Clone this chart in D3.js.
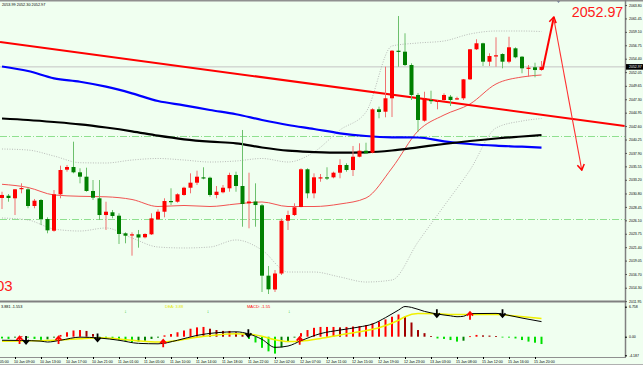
<!DOCTYPE html>
<html>
<head>
<meta charset="utf-8">
<script src="https://cdn.jsdelivr.net/npm/d3@7"></script>
<style>
  body { margin: 0; background: #f0fff0; }
  svg { display: block; font-family: "Liberation Sans", Arial, sans-serif; }
</style>
</head>
<body>
<svg width="643" height="367"></svg>
<script>
// XAUUSD H1, 84 bars (up = red, down = green)
var opens = [2030.01, 2030.41, 2029.96, 2031.67, 2031.53, 2028.61, 2029.66, 2026.33, 2024.28, 2030.66,
    2034.97, 2035.44, 2034.51, 2033.74, 2031.24, 2029.96, 2027.03, 2027.51, 2026.91, 2023.83,
    2023.53, 2023.65, 2023.13, 2023.65, 2026.28, 2027.61, 2029.48, 2029.36, 2030.54, 2031.81,
    2032.69, 2033.63, 2033.56, 2030.54, 2031.01, 2031.71, 2034.04, 2032.11, 2029.08, 2029.40,
    2028.73, 2016.41, 2013.99, 2016.79, 2026.03, 2027.03, 2028.43, 2035.04, 2030.83, 2033.51,
    2033.63, 2033.63, 2034.44, 2035.79, 2034.91, 2037.24, 2038.29, 2037.94, 2045.54, 2045.12,
    2047.47, 2055.80, 2055.63, 2053.30, 2048.05, 2043.55, 2047.17, 2046.94, 2047.17, 2047.75,
    2047.40, 2047.47, 2050.79, 2056.05, 2057.10, 2053.88, 2054.93, 2055.22, 2053.88, 2056.22,
    2054.75, 2052.77, 2052.90, 2052.42];
var highs = [2031.11, 2030.71, 2031.59, 2032.58, 2031.81, 2029.84, 2029.84, 2026.63, 2031.41, 2035.67,
    2035.79, 2039.87, 2035.21, 2035.32, 2033.16, 2033.16, 2029.36, 2027.91, 2027.33, 2024.00,
    2024.00, 2024.41, 2023.83, 2027.33, 2028.03, 2029.96, 2031.71, 2030.83, 2031.99, 2034.33,
    2034.79, 2035.39, 2033.74, 2032.11, 2032.29, 2034.44, 2034.62, 2041.92, 2034.44, 2032.58,
    2028.96, 2018.10, 2017.40, 2026.42, 2027.79, 2029.08, 2035.21, 2035.21, 2034.33, 2034.21,
    2035.39, 2034.62, 2036.79, 2036.09, 2039.12, 2039.59, 2039.69, 2045.72, 2046.00, 2053.00,
    2055.92, 2061.88, 2058.85, 2053.60, 2048.40, 2048.62, 2048.80, 2047.17, 2048.34, 2048.05,
    2047.75, 2050.85, 2056.10, 2057.80, 2057.20, 2055.35, 2058.15, 2055.35, 2058.25, 2056.40,
    2054.87, 2053.30, 2053.70, 2053.99];
var lows = [2028.08, 2029.36, 2027.03, 2030.83, 2028.21, 2028.21, 2025.28, 2023.83, 2024.11, 2029.96,
    2034.62, 2034.33, 2032.58, 2031.11, 2029.66, 2026.16, 2024.41, 2026.46, 2021.96, 2022.08,
    2019.91, 2021.31, 2022.95, 2023.53, 2026.16, 2026.63, 2028.78, 2029.19, 2030.41, 2030.83,
    2032.29, 2033.28, 2030.24, 2029.96, 2030.83, 2031.11, 2031.11, 2024.98, 2024.70, 2024.98,
    2013.55, 2013.20, 2013.55, 2016.53, 2024.41, 2026.86, 2028.38, 2029.96, 2029.96, 2032.86,
    2033.16, 2033.46, 2033.46, 2034.62, 2033.86, 2037.14, 2037.71, 2037.84, 2043.97, 2044.14,
    2044.19, 2053.00, 2053.12, 2047.17, 2041.62, 2043.37, 2046.47, 2045.54, 2046.99, 2046.12,
    2047.17, 2047.17, 2050.67, 2055.92, 2053.12, 2053.12, 2053.00, 2052.72, 2053.60, 2054.47,
    2051.85, 2051.25, 2051.14, 2052.30];
var closes = [2030.54, 2030.01, 2031.53, 2031.76, 2028.61, 2029.54, 2026.33, 2024.35, 2030.66, 2034.91,
    2035.44, 2034.51, 2033.74, 2031.24, 2030.06, 2027.03, 2027.61, 2026.86, 2023.71, 2023.41,
    2023.65, 2023.09, 2023.71, 2026.45, 2027.61, 2029.48, 2029.31, 2030.66, 2031.81, 2032.69,
    2033.74, 2033.46, 2030.54, 2031.11, 2031.81, 2034.04, 2032.11, 2028.96, 2029.40, 2028.78,
    2016.41, 2014.02, 2016.79, 2026.03, 2027.03, 2028.38, 2035.04, 2030.83, 2033.63, 2033.63,
    2033.51, 2034.44, 2035.79, 2034.91, 2037.24, 2038.29, 2037.84, 2045.54, 2045.07, 2047.47,
    2055.80, 2055.70, 2053.30, 2048.05, 2043.67, 2047.47, 2046.99, 2047.05, 2048.05, 2047.17,
    2047.47, 2050.79, 2056.05, 2057.10, 2053.88, 2054.87, 2055.00, 2053.88, 2056.40, 2054.65,
    2052.72, 2052.83, 2052.42, 2052.97];

// indicator lines read every 4 bars: [bar, price]
var maBlue = [[0, 2053.04], [4, 2052.25], [8, 2050.97], [12, 2050.37], [16, 2049.50], [20, 2048.34], [24, 2046.99], [28, 2046.24],
    [32, 2045.42], [36, 2044.67], [40, 2043.67], [44, 2042.79], [48, 2042.09], [52, 2041.34], [56, 2040.87], [60, 2040.64],
    [64, 2040.60], [68, 2039.94], [72, 2039.47], [76, 2039.17], [80, 2038.99], [83, 2038.82]];
var maBlack = [[0, 2043.93], [4, 2043.67], [8, 2043.32], [12, 2042.91], [16, 2042.35], [20, 2041.69], [24, 2040.92], [28, 2040.29],
    [32, 2039.87], [36, 2039.59], [40, 2038.85], [44, 2038.29], [48, 2038.06], [52, 2037.94], [56, 2038.01], [60, 2038.33],
    [64, 2038.89], [68, 2039.47], [72, 2039.99], [76, 2040.43], [80, 2040.78], [83, 2041.04]];
var bbMid = [[0, 2032.41], [4, 2031.85], [8, 2030.54], [12, 2030.31], [16, 2030.22], [20, 2029.75], [24, 2028.52], [28, 2028.70],
    [32, 2028.52], [36, 2028.96], [40, 2029.31], [44, 2028.52], [48, 2028.52], [52, 2028.96], [56, 2030.01], [60, 2035.26],
    [64, 2041.74], [68, 2044.54], [72, 2046.47], [76, 2049.97], [80, 2051.20], [83, 2051.55]];
var bbUpper = [[0, 2038.59], [4, 2038.41], [8, 2037.36], [12, 2036.19], [16, 2036.14], [20, 2036.66], [24, 2036.93], [28, 2036.66],
    [32, 2036.31], [36, 2036.49], [40, 2036.93], [44, 2036.31], [48, 2038.06], [52, 2041.92], [56, 2045.07], [60, 2056.63],
    [64, 2057.15], [68, 2057.50], [72, 2058.73], [76, 2059.25], [80, 2059.25], [83, 2059.16]];
var bbLower = [[0, 2026.51], [4, 2026.16], [8, 2024.58], [12, 2024.23], [16, 2024.76], [20, 2023.01], [24, 2021.43], [28, 2021.26],
    [32, 2021.43], [36, 2022.66], [40, 2020.90], [44, 2017.05], [48, 2017.05], [52, 2016.18], [56, 2015.30], [60, 2015.65],
    [64, 2022.31], [68, 2028.61], [72, 2034.91], [76, 2042.27], [80, 2043.49], [83, 2043.93]];
var trendLine = [[-0.3, 2057.33], [95.8, 2042.62]];
var levels = [2040.87, 2026.28];
var forecast = [[83.2, 2052.60], [84.9, 2061.70], [89.2, 2034.90]];

// MACD panel
var macdHist = [-0.4, -0.5, -0.2, 0.1, -0.2, -0.5, -0.7, -0.6, -0.2, 0.4,
    1.0, 1.4, 1.5, 1.3, 0.6, -0.2, -0.4, -0.6, -0.8, -1.0,
    -1.2, -1.1, -0.9, -0.5, -0.2, 0.3, 0.6, 1.0, 1.4, 1.8,
    2.1, 2.2, 1.8, 1.5, 1.3, 1.3, 1.0, 0.5, -0.5, -1.3,
    -2.5, -3.3, -3.8, -2.4, -1.2, -0.2, 0.8, 1.5, 2.0, 2.2,
    2.2, 2.2, 2.1, 2.2, 2.3, 2.4, 2.6, 3.0, 3.4, 3.9,
    4.5, 5.0, 4.5, 3.2, 1.5, 0.8, 0.15, -0.4, -0.5, -0.75,
    -1.1, -0.9, 0.1, 0.4, 0.3, 0.25, 0.15, -0.1, -0.2, -0.4,
    -0.75, -1.1, -1.35, -1.65];
var dif = [[0, -0.8], [3, -0.85], [6, -1.0], [7, -1.2], [9, -0.8], [12, -0.1], [15, -0.3], [18, -0.8], [21, -1.5], [24, -1.6],
    [27, -0.8], [30, 0.3], [33, 0.9], [36, 1.1], [38, 0.6], [40, -0.6], [42, -2.4], [44, -2.1], [46, -0.9], [49, 0.7],
    [52, 1.5], [55, 2.2], [57, 2.85], [59, 4.3], [61, 6.0], [62, 6.8], [63, 6.6], [65, 5.7], [67, 5.1], [69, 4.7],
    [70, 4.5], [71, 4.6], [72, 5.2], [76, 5.25], [78, 4.8], [80, 4.2], [83, 3.4]];
var dea = [[0, -1.0], [3, -0.95], [6, -0.9], [9, -0.75], [12, -0.45], [15, -0.25], [18, -0.5], [21, -0.95], [24, -1.2], [27, -0.85],
    [30, -0.1], [33, 0.4], [36, 0.65], [38, 0.55], [40, 0.1], [42, -0.7], [44, -1.1], [46, -1.0], [49, -0.4], [52, 0.4],
    [55, 1.1], [58, 2.0], [61, 3.7], [62, 4.5], [64, 5.2], [67, 5.15], [70, 5.0], [73, 5.0], [76, 5.0], [79, 4.65], [83, 4.1]];
var crossUp = [[2.7, -0.75], [8.7, -0.75], [24.8, -1.5], [45.8, -0.9], [72, 4.73]];
var crossDown = [[3.7, -0.75], [14.7, -0.2], [37.9, 0.77], [66.9, 5.27], [77, 5.27]];
var markerBars = [19, 31.7, 44.2];

// axes
var priceTicks = [2063.80, 2061.45, 2059.10, 2056.75, 2054.40, 2052.05, 2049.65, 2047.30, 2044.95, 2042.60, 2040.25, 2037.90,
    2035.55, 2033.20, 2030.80, 2028.45, 2026.10, 2023.75, 2021.40, 2019.05, 2016.70, 2014.30, 2011.95];
var macdTicks = [6.758, 0, -4.187];
var macdTickLabels = ["6.758", "0.00", "-4.187"];
var timeBars = [-2, 2, 6, 10, 14, 18, 22, 26, 30, 34, 38, 42, 46, 50, 54, 58, 62, 66, 70, 74, 78, 82];
var timeLabels = ["10 Jan 05:00", "10 Jan 09:00", "10 Jan 13:00", "10 Jan 17:00", "10 Jan 21:00", "11 Jan 01:00",
    "11 Jan 05:00", "11 Jan 10:00", "11 Jan 14:00", "11 Jan 18:00", "11 Jan 22:00", "12 Jan 02:00", "12 Jan 07:00",
    "12 Jan 11:00", "12 Jan 15:00", "12 Jan 19:00", "12 Jan 23:00", "13 Jan 03:00", "15 Jan 08:00", "15 Jan 12:00",
    "15 Jan 16:00", "15 Jan 20:00"];

var svg = d3.select("svg"),
    plotRight = 625,
    mainBottom = 300,
    macdTop = 302,
    macdBottom = 357;

var x = d3.scaleLinear().domain([0, 83]).range([2, 541.5]);
var y = d3.scaleLinear().domain([2012.15, 2064.68]).range([mainBottom, 0]);
var ym = d3.scaleLinear().domain([-4.187, 6.758]).range([355.3, 306.7]);

var defs = svg.append("defs");
defs.append("clipPath").attr("id", "clipMain").append("rect")
    .attr("width", plotRight).attr("height", mainBottom);
defs.append("clipPath").attr("id", "clipMacd").append("rect")
    .attr("y", macdTop).attr("width", plotRight).attr("height", macdBottom - macdTop);
defs.append("marker").attr("id", "head")
    .attr("viewBox", "-7 -5 8 10").attr("refX", 0).attr("refY", 0)
    .attr("markerWidth", 8).attr("markerHeight", 10)
    .attr("markerUnits", "userSpaceOnUse").attr("orient", "auto")
    .append("path").attr("d", "M-5.5,-3.5 L0,0 L-5.5,3.5")
    .attr("fill", "none").attr("stroke", "#ff0000").attr("stroke-width", 1.5);

var main = svg.append("g").attr("clip-path", "url(#clipMain)");

var priceLine = d3.line()
    .x(function(d) { return x(d[0]); })
    .y(function(d) { return y(d[1]); })
    .curve(d3.curveMonotoneX);

// dash-dot levels
main.selectAll(".level").data(levels).enter().append("line")
    .attr("x1", 0).attr("x2", plotRight)
    .attr("y1", function(d) { return Math.round(y(d)) + 0.5; })
    .attr("y2", function(d) { return Math.round(y(d)) + 0.5; })
    .attr("stroke", "#8fe08f").attr("stroke-dasharray", "7,2,1,2");

// current price line
main.append("line")
    .attr("x1", 0).attr("x2", plotRight)
    .attr("y1", y(closes[83])).attr("y2", y(closes[83]))
    .attr("stroke", "#c4c4c4").attr("stroke-width", 1);

// bollinger bands
[bbUpper, bbLower].forEach(function(band) {
    main.append("path").datum(band)
        .attr("d", priceLine)
        .attr("fill", "none").attr("stroke", "#a8a8a8")
        .attr("stroke-width", 0.8).attr("stroke-dasharray", "1,1.5");
});
main.append("path").datum(bbMid).attr("d", priceLine)
    .attr("fill", "none").attr("stroke", "#f04040").attr("stroke-width", 0.9);

main.append("path").datum(maBlue).attr("d", priceLine)
    .attr("fill", "none").attr("stroke", "#0000ff").attr("stroke-width", 2.2);
main.append("path").datum(maBlack).attr("d", priceLine)
    .attr("fill", "none").attr("stroke", "#000").attr("stroke-width", 2.2);
main.append("path").datum(trendLine).attr("d", d3.line()
        .x(function(d) { return x(d[0]); })
        .y(function(d) { return y(d[1]); }))
    .attr("fill", "none").attr("stroke", "#ff0000").attr("stroke-width", 2);

// candles
var bars = d3.range(closes.length);
function isUp(i) { return closes[i] >= opens[i]; }

main.selectAll(".wick").data(bars).enter().append("line")
    .attr("x1", function(i) { return x(i); })
    .attr("x2", function(i) { return x(i); })
    .attr("y1", function(i) { return y(highs[i]); })
    .attr("y2", function(i) { return y(lows[i]); })
    .attr("stroke", function(i) { return isUp(i) ? "#f07070" : "#6cc06c"; })
    .attr("stroke-width", 1);

main.selectAll(".body").data(bars).enter().append("rect")
    .attr("x", function(i) { return x(i) - 2; })
    .attr("width", 4)
    .attr("y", function(i) { return y(Math.max(opens[i], closes[i])); })
    .attr("height", function(i) { return Math.max(1.2, Math.abs(y(opens[i]) - y(closes[i]))); })
    .attr("fill", function(i) { return isUp(i) ? "#ff0000" : "#008000"; });

// forecast arrows
svg.append("line")
    .attr("x1", x(forecast[0][0])).attr("y1", y(forecast[0][1]))
    .attr("x2", x(forecast[1][0])).attr("y2", y(forecast[1][1]))
    .attr("stroke", "#ff0000").attr("stroke-width", 2).attr("marker-end", "url(#head)");
svg.append("line")
    .attr("x1", x(forecast[1][0])).attr("y1", y(forecast[1][1]) + 2)
    .attr("x2", x(forecast[2][0])).attr("y2", y(forecast[2][1]))
    .attr("stroke", "#ff3030").attr("stroke-width", 1.1).attr("marker-end", "url(#head)");

// labels in main panel
svg.append("text").attr("x", 2).attr("y", 6)
    .attr("font-size", 3.8).attr("fill", "#000")
    .text("2053.99 2052.30 2052.97");
svg.append("text").attr("x", 571.7).attr("y", 17.3)
    .attr("font-size", 15.5).attr("fill", "#ff1a1a")
    .attr("textLength", 51.6).attr("lengthAdjust", "spacingAndGlyphs")
    .text(d3.format(".2f")(closes[83]));
svg.append("text").attr("x", 12.7).attr("y", 290.7)
    .attr("font-size", 15).attr("fill", "#ff1a1a").attr("text-anchor", "end")
    .text("03");
svg.append("path").attr("d", "M556,0 L561,0 L558.5,3 Z").attr("fill", "#7080a0");

// MACD panel
var macdG = svg.append("g").attr("clip-path", "url(#clipMacd)");
macdG.selectAll(".hist").data(bars).enter().append("rect")
    .attr("x", function(i) { return x(i) - 1; })
    .attr("width", 2)
    .attr("y", function(i) { return Math.min(ym(0), ym(macdHist[i])); })
    .attr("height", function(i) { return Math.max(0.8, Math.abs(ym(macdHist[i]) - ym(0))); })
    .attr("fill", function(i) {
        var v = macdHist[i], p = i > 0 ? macdHist[i - 1] : v;
        if (v >= 0) return v >= p ? "#ff0000" : "#a00000";
        return v <= p ? "#00e000" : "#008000";
    });

var macdLine = d3.line()
    .x(function(d) { return x(d[0]); })
    .y(function(d) { return ym(d[1]); })
    .curve(d3.curveMonotoneX);
macdG.append("path").datum(dea).attr("d", macdLine)
    .attr("fill", "none").attr("stroke", "#f0f000").attr("stroke-width", 1.5);
macdG.append("path").datum(dif).attr("d", macdLine)
    .attr("fill", "none").attr("stroke", "#000").attr("stroke-width", 1);

macdG.selectAll(".up").data(crossUp).enter().append("path")
    .attr("transform", function(d) { return "translate(" + x(d[0]) + "," + ym(d[1]) + ")"; })
    .attr("d", "M0,4 L0,-3 M-3,0 L0,-3.5 L3,0")
    .attr("fill", "none").attr("stroke", "#ff0000").attr("stroke-width", 1.8);
macdG.selectAll(".down").data(crossDown).enter().append("path")
    .attr("transform", function(d) { return "translate(" + x(d[0]) + "," + ym(d[1]) + ")"; })
    .attr("d", "M0,-4 L0,3 M-3,0 L0,3.5 L3,0")
    .attr("fill", "none").attr("stroke", "#000").attr("stroke-width", 1.8);

svg.append("text").attr("x", 1).attr("y", 308).attr("font-size", 3.8).attr("fill", "#000")
    .text("3.881 -1.553");
svg.append("text").attr("x", 165).attr("y", 308).attr("font-size", 4).attr("fill", "#e6e600")
    .text("DEA:   3.88");
svg.append("text").attr("x", 247).attr("y", 308).attr("font-size", 4).attr("fill", "#ff0000")
    .text("MACD:   -1.55");
svg.selectAll(".mk").data(markerBars).enter().append("text")
    .attr("x", function(d) { return x(d); }).attr("y", 313)
    .attr("font-size", 5).attr("fill", "#20c020").attr("text-anchor", "middle")
    .text("\u2193");

// frame
svg.append("line").attr("x1", 0).attr("x2", 643).attr("y1", 0.8).attr("y2", 0.8)
    .attr("stroke", "#909090").attr("stroke-width", 1.6);
svg.append("line").attr("x1", 0).attr("x2", plotRight + 1).attr("y1", 301.5).attr("y2", 301.5)
    .attr("stroke", "#808080").attr("stroke-width", 2);
svg.append("line").attr("x1", 0).attr("x2", plotRight + 1).attr("y1", macdBottom + 0.5).attr("y2", macdBottom + 0.5)
    .attr("stroke", "#909090").attr("stroke-width", 1);
svg.append("line").attr("x1", plotRight + 0.5).attr("x2", plotRight + 0.5).attr("y1", 0).attr("y2", macdBottom)
    .attr("stroke", "#808080").attr("stroke-width", 1.5);

// price axis
var yAxis = svg.append("g").attr("transform", "translate(" + plotRight + ",0)")
    .call(d3.axisRight(y).tickValues(priceTicks).tickFormat(d3.format(".2f")).tickSize(2).tickPadding(2))
    .attr("font-size", 3.5).attr("font-family", null);
yAxis.select(".domain").remove();
yAxis.selectAll("line").attr("stroke", "#555");

// current price tag
svg.append("rect").attr("x", plotRight + 1).attr("y", y(closes[83]) - 2.8)
    .attr("width", 17).attr("height", 5.6).attr("fill", "#000");
svg.append("text").attr("x", plotRight + 4).attr("y", y(closes[83]) + 1.3)
    .attr("font-size", 3.5).attr("fill", "#fff")
    .text(d3.format(".2f")(closes[83]));

var mAxis = svg.append("g").attr("transform", "translate(" + plotRight + ",0)")
    .call(d3.axisRight(ym).tickValues(macdTicks)
        .tickFormat(function(d, i) { return macdTickLabels[i]; }).tickSize(2).tickPadding(2))
    .attr("font-size", 3.5).attr("font-family", null);
mAxis.select(".domain").remove();

// time axis
var tAxis = svg.append("g").attr("transform", "translate(0," + macdBottom + ")")
    .call(d3.axisBottom(x).tickValues(timeBars)
        .tickFormat(function(d, i) { return timeLabels[i]; }).tickSize(2).tickPadding(1))
    .attr("font-size", 3.6).attr("font-family", null);
tAxis.select(".domain").remove();
tAxis.selectAll("text").attr("text-anchor", "start").attr("dx", -1.5);

svg.append("line").attr("x1", 0).attr("x2", 643).attr("y1", 364.5).attr("y2", 364.5)
    .attr("stroke", "#b0b0b0");
svg.append("rect").attr("x", 0).attr("y", 365).attr("width", 643).attr("height", 2).attr("fill", "#ffffff");
</script>
</body>
</html>
